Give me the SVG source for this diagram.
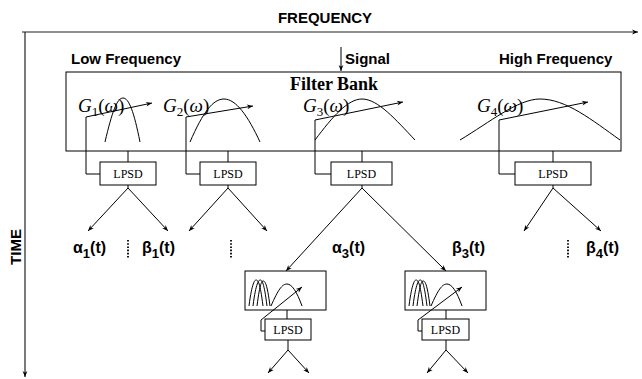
<svg xmlns="http://www.w3.org/2000/svg" width="642" height="379" viewBox="0 0 642 379">
<defs>
<marker id="ah" viewBox="0 0 10 10" refX="10" refY="5" markerWidth="7" markerHeight="6" markerUnits="userSpaceOnUse" orient="auto">
<path d="M0,1 L10,5 L0,9 L3,5 Z" fill="#000"/>
</marker>
</defs>
<style>
.ln{fill:none;stroke:#000;stroke-width:1}
.ax{fill:none;stroke:#222;stroke-width:1.2}
.box{fill:#fff;stroke:#000;stroke-width:1}
.hd{font-family:"Liberation Sans",Arial,sans-serif;font-weight:bold;font-size:15px;fill:#000}
.lb{font-family:"Liberation Sans",Arial,sans-serif;font-weight:bold;font-size:16px;fill:#000}
.sub{font-size:13px}
.sf{font-family:"Liberation Serif","Times New Roman",serif;fill:#000}
.g{font-family:"Liberation Serif","Times New Roman",serif;font-style:italic;font-size:19px;fill:#000}
.gs{font-size:13px;font-style:normal}
.gn{font-style:normal}
.lp{font-family:"Liberation Serif","Times New Roman",serif;font-size:12px;fill:#000}
.dot{fill:none;stroke:#000;stroke-width:1.8;stroke-dasharray:1.6,1.6}
</style>
<rect width="642" height="379" fill="#fff"/>

<g id="axes">
<path class="ax" d="M22,32 H638" marker-end="url(#ah)"/>
<path class="ax" d="M25,32 V377" marker-end="url(#ah)"/>
<text class="hd" x="325" y="23" text-anchor="middle" font-size="14">FREQUENCY</text>
<text class="hd" transform="translate(21,247) rotate(-90)" text-anchor="middle" font-size="14">TIME</text>
<text class="hd" x="71" y="64">Low Frequency</text>
<text class="hd" x="345" y="64">Signal</text>
<text class="hd" x="499" y="64">High Frequency</text>
<path class="ln" d="M341,47 V71" marker-end="url(#ah)"/>
</g>

<g id="filterbank">
<rect class="box" x="66" y="72" width="555" height="79" fill="none"/>
<text class="sf" x="334" y="90" text-anchor="middle" font-size="18" font-weight="bold">Filter Bank</text>
<text class="g" x="78" y="112">G<tspan class="gs" dy="4">1</tspan><tspan class="gn" dy="-4">(</tspan>ω<tspan class="gn">)</tspan></text>
<text class="g" x="163" y="112">G<tspan class="gs" dy="4">2</tspan><tspan class="gn" dy="-4">(</tspan>ω<tspan class="gn">)</tspan></text>
<text class="g" x="303" y="112">G<tspan class="gs" dy="4">3</tspan><tspan class="gn" dy="-4">(</tspan>ω<tspan class="gn">)</tspan></text>
<text class="g" x="477" y="112">G<tspan class="gs" dy="4">4</tspan><tspan class="gn" dy="-4">(</tspan>ω<tspan class="gn">)</tspan></text>
<path class="ln" d="M105,142 C112,112 117,98 123,98 C129,98 134,112 140,142"/>
<path class="ln" d="M190,142 C203,112 213,99 224,99 C236,99 248,116 260,142"/>
<path class="ln" d="M315,140 C333,116 348,99 362,99 C378,99 396,120 415,140"/>
<path class="ln" d="M460,140 C490,122 518,99 540,99 C566,99 592,120 620,140"/>
</g>

<g id="lpsd1"><rect class="box" x="100" y="162" width="56" height="23"/><text class="lp" x="128" y="178" text-anchor="middle">LPSD</text></g>
<g id="lpsd2"><rect class="box" x="200" y="162" width="56" height="23"/><text class="lp" x="228" y="178" text-anchor="middle">LPSD</text></g>
<g id="lpsd3"><rect class="box" x="331" y="162" width="61" height="23"/><text class="lp" x="361.5" y="178" text-anchor="middle">LPSD</text></g>
<g id="lpsd4"><rect class="box" x="515" y="162" width="76" height="23"/><text class="lp" x="553" y="178" text-anchor="middle">LPSD</text></g>

<g id="sub1">
<rect class="box" x="245" y="271" width="81" height="39"/>
<path class="ln" d="M249,306 C252,282 255,280 256,280 C258,280 260,282 263,306 M253,306 C256,282 259,280 260,280 C262,280 264,282 267,306 M257,306 C260,282 262,281 263,281 C265,281 267,283 270,306"/>
<path class="ln" d="M271,306 C278,290 282,284 287,284 C292,284 297,292 302,306"/>
</g>
<g id="sub2">
<rect class="box" x="405" y="271" width="81" height="39"/>
<path class="ln" d="M409,306 C412,282 415,280 416,280 C418,280 420,282 423,306 M413,306 C416,282 419,280 420,280 C422,280 424,282 427,306 M417,306 C420,282 422,281 423,281 C425,281 427,283 430,306"/>
<path class="ln" d="M431,306 C438,290 442,284 447,284 C452,284 457,292 462,306"/>
</g>
<g id="lpsd5"><rect class="box" x="265" y="319" width="46" height="21"/><text class="lp" x="288" y="334" text-anchor="middle">LPSD</text></g>
<g id="lpsd6"><rect class="box" x="422" y="319" width="47" height="21"/><text class="lp" x="445.5" y="334" text-anchor="middle">LPSD</text></g>

<g id="labels">
<text class="lb" x="73" y="253">α<tspan class="sub" dy="5">1</tspan><tspan dy="-5">(t)</tspan></text>
<text class="lb" x="142" y="253">β<tspan class="sub" dy="5">1</tspan><tspan dy="-5">(t)</tspan></text>
<text class="lb" x="332" y="253">α<tspan class="sub" dy="5">3</tspan><tspan dy="-5">(t)</tspan></text>
<text class="lb" x="452" y="253">β<tspan class="sub" dy="5">3</tspan><tspan dy="-5">(t)</tspan></text>
<text class="lb" x="586" y="253">β<tspan class="sub" dy="5">4</tspan><tspan dy="-5">(t)</tspan></text>
<path class="dot" d="M128,240 V258 M231,240 V258 M568,240 V258"/>
</g>

<g id="connectors">
<path class="ln" d="M128,151 V162 M228,151 V162 M362,151 V162 M553,151 V162"/>
<path class="ln" d="M100,174 H86 V117 L152,103" marker-end="url(#ah)"/>
<path class="ln" d="M200,174 H186 V117 L253,106" marker-end="url(#ah)"/>
<path class="ln" d="M331,174 H315 V120 L403,102" marker-end="url(#ah)"/>
<path class="ln" d="M515,174 H499 V120 L588,102" marker-end="url(#ah)"/>
<path class="ln" d="M128,185 V188 L88,231" marker-end="url(#ah)"/>
<path class="ln" d="M128,188 L168,231" marker-end="url(#ah)"/>
<path class="ln" d="M228,185 V188 L189,231" marker-end="url(#ah)"/>
<path class="ln" d="M228,188 L267,231" marker-end="url(#ah)"/>
<path class="ln" d="M362,185 V188 L286,271" marker-end="url(#ah)"/>
<path class="ln" d="M362,188 L446,271" marker-end="url(#ah)"/>
<path class="ln" d="M553,185 V188 L524,231" marker-end="url(#ah)"/>
<path class="ln" d="M553,188 L601,231" marker-end="url(#ah)"/>
<path class="ln" d="M287,310 V319 M446,310 V319"/>
<path class="ln" d="M265,331 H261 V320 L302,287" marker-end="url(#ah)"/>
<path class="ln" d="M422,331 H418 V320 L462,287" marker-end="url(#ah)"/>
<path class="ln" d="M288,340 V350 L268,373" marker-end="url(#ah)"/>
<path class="ln" d="M288,350 L309,373" marker-end="url(#ah)"/>
<path class="ln" d="M446,340 V350 L427,373" marker-end="url(#ah)"/>
<path class="ln" d="M446,350 L468,373" marker-end="url(#ah)"/>
</g>
</svg>
